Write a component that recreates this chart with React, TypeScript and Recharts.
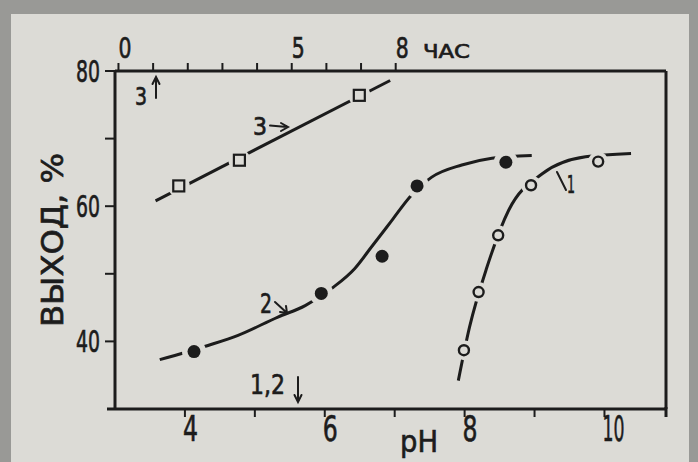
import {
  ComposedChart,
  Line,
  Scatter,
  XAxis,
  YAxis,
} from 'recharts'

// --- Data ---

// curve 3: yield vs time, hours (top axis)
const curve3Hours = [1.74, 3.49, 6.95]
const curve3Yield = [63.0, 66.8, 76.4]
const curve3LineHours = [1.07, 7.84]
const curve3LineYield = [60.8, 78.6]

// curve 2: yield vs pH, filled circles
const curve2Ph = [4.13, 5.95, 6.82, 7.32, 8.59]
const curve2Yield = [38.5, 47.1, 52.6, 63.0, 66.5]
const curve2LinePh = [3.64, 4.33, 4.76, 5.33, 5.72, 6.12, 6.43, 6.67, 6.96, 7.22, 7.53, 7.96, 8.39, 8.96]
const curve2LineYield = [37.3, 39.4, 40.9, 43.6, 45.3, 48.0, 50.8, 54.0, 57.9, 61.4, 64.3, 66.1, 67.1, 67.5]

// curve 1: yield vs pH, open circles
const curve1Ph = [7.99, 8.2, 8.48, 8.95, 9.91]
const curve1Yield = [38.7, 47.3, 55.7, 63.1, 66.6]
const curve1LinePh = [7.91, 8.07, 8.32, 8.63, 9.11, 9.73, 10.38]
const curve1LineYield = [34.2, 42.1, 51.0, 59.4, 64.8, 67.3, 67.8]

const phTicks = [4, 5, 6, 7, 8, 9, 10]
const phLabels = [4, 6, 8, 10]
const hourTicks = [0, 1, 2, 3, 4, 5, 6, 7, 8]
const hourLabels = [0, 5, 8]
const yieldTicks = [40, 50, 60, 70, 80]
const yieldLabels = [40, 60, 80]

const zip = (xs: number[], ys: number[]) => xs.map((x, i) => ({ x, y: ys[i] }))

// --- Style ---

const paper = '#dcdbd6'
const ink = '#1c1c1c'
const font = "'DejaVu Sans', sans-serif"

// condensed lettering: squeeze glyphs to a given width
const T = ({ w, size, children, ...rest }: any) => (
  <text
    fill={ink}
    stroke={ink}
    strokeWidth={0.7}
    fontFamily={font}
    fontSize={size}
    textLength={w}
    lengthAdjust="spacingAndGlyphs"
    {...rest}
  >
    {children}
  </text>
)

const bottomTick = (props: any) => {
  const { x, payload } = props
  if (!phLabels.includes(payload.value)) return <g />
  const s = String(payload.value)
  return (
    <T x={x - 2} y={441} size={36} w={s.length > 1 ? 22 : 15}>
      {s}
    </T>
  )
}

const topTick = (props: any) => {
  const { x, payload } = props
  if (!hourLabels.includes(payload.value)) return <g />
  return (
    <T x={x} y={58} size={28} w={13}>
      {payload.value}
    </T>
  )
}

const leftTick = (props: any) => {
  const { x, y, payload } = props
  if (!yieldLabels.includes(payload.value)) return <g />
  return (
    <T x={x - 3} y={y + 11} size={30} w={24} textAnchor="end">
      {payload.value}
    </T>
  )
}

const SquareMark = ({ cx, cy }: any) => (
  <g>
    <circle cx={cx} cy={cy} r={11} fill={paper} />
    <rect x={cx - 5.5} y={cy - 5.5} width={11} height={11} fill={paper} stroke={ink} strokeWidth={2.2} />
  </g>
)

const FilledMark = ({ cx, cy }: any) => (
  <g>
    <circle cx={cx} cy={cy} r={12} fill={paper} />
    <circle cx={cx} cy={cy} r={6.5} fill={ink} />
  </g>
)

const OpenMark = ({ cx, cy }: any) => (
  <g>
    <circle cx={cx} cy={cy} r={10} fill={paper} />
    <circle cx={cx} cy={cy} r={5} fill={paper} stroke={ink} strokeWidth={2.4} />
  </g>
)

export default function App() {
  const axisLine = { stroke: ink, strokeWidth: 3 }
  const tickLine = { stroke: ink, strokeWidth: 2 }
  return (
    <div style={{ position: 'fixed', left: 0, top: 0, width: 698, height: 462, background: '#999996', overflow: 'hidden' }}>
      <div style={{ position: 'absolute', left: 11, top: 14, right: 9, bottom: 0, background: paper }} />
      <div style={{ position: 'absolute', left: 0, top: 0 }}>
        <ComposedChart width={698} height={462} margin={{ top: 0, right: 0, bottom: 0, left: 0 }}>
          <XAxis
            xAxisId="ph"
            dataKey="x"
            type="number"
            orientation="bottom"
            domain={[3, 10.88]}
            ticks={phTicks}
            height={53}
            axisLine={axisLine}
            tickLine={tickLine}
            tickSize={8}
            tick={bottomTick}
            allowDataOverflow
          />
          <XAxis
            xAxisId="h"
            dataKey="x"
            type="number"
            orientation="top"
            domain={[-0.1, 15.8]}
            ticks={hourTicks}
            height={71}
            axisLine={axisLine}
            tickLine={tickLine}
            tickSize={8}
            tick={topTick}
            allowDataOverflow
          />
          <YAxis
            yAxisId="y"
            type="number"
            domain={[30, 80]}
            ticks={yieldTicks}
            width={115}
            axisLine={axisLine}
            tickLine={tickLine}
            tickSize={10}
            tick={leftTick}
            allowDataOverflow
          />
          <YAxis
            yAxisId="r"
            orientation="right"
            type="number"
            domain={[30, 80]}
            width={32}
            axisLine={axisLine}
            tick={false}
            tickLine={false}
          />

          <Line
            data={zip(curve3LineHours, curve3LineYield)}
            xAxisId="h"
            yAxisId="y"
            dataKey="y"
            type="linear"
            stroke={ink}
            strokeWidth={3}
            dot={false}
            activeDot={false}
            isAnimationActive={false}
          />
          <Line
            data={zip(curve2LinePh, curve2LineYield)}
            xAxisId="ph"
            yAxisId="y"
            dataKey="y"
            type="monotone"
            stroke={ink}
            strokeWidth={3}
            dot={false}
            activeDot={false}
            isAnimationActive={false}
          />
          <Line
            data={zip(curve1LinePh, curve1LineYield)}
            xAxisId="ph"
            yAxisId="y"
            dataKey="y"
            type="monotone"
            stroke={ink}
            strokeWidth={3}
            dot={false}
            activeDot={false}
            isAnimationActive={false}
          />
          <Scatter data={zip(curve3Hours, curve3Yield)} xAxisId="h" yAxisId="y" dataKey="y" shape={SquareMark} isAnimationActive={false} />
          <Scatter data={zip(curve2Ph, curve2Yield)} xAxisId="ph" yAxisId="y" dataKey="y" shape={FilledMark} isAnimationActive={false} />
          <Scatter data={zip(curve1Ph, curve1Yield)} xAxisId="ph" yAxisId="y" dataKey="y" shape={OpenMark} isAnimationActive={false} />
        </ComposedChart>
      </div>

      {/* hand-lettered annotations and frame overhangs */}
      <svg width={698} height={462} style={{ position: 'absolute', left: 0, top: 0, pointerEvents: 'none' }}>
        <T x={53} y={240} dy={10} size={30} w={174} textAnchor="middle" transform="rotate(-90 53 240)">
          ВЫХОД, %
        </T>
        <T x={423} y={58} size={19} w={47}>ЧАС</T>
        <T x={400} y={452} size={31} w={38}>pH</T>
        <T x={135} y={105} size={25} w={12}>3</T>
        <T x={253} y={135} size={24} w={14}>3</T>
        <T x={260} y={313} size={27} w={12}>2</T>
        <T x={250} y={394} size={27} w={35}>1,2</T>
        <T x={567} y={193} size={24} w={8}>1</T>
        <g stroke={ink} strokeWidth={2} fill="none" strokeLinecap="round">
          <path d="M156 98 L156 78 M152.5 84 L156 77 L159.5 84" />
          <path d="M270 125.5 L287 127 M281 123 L288 127 L281 131" />
          <path d="M275 302 L287 313 M280 312 L287 313 L286 306" />
          <path d="M298 377 L298 402 M294.5 395 L298 402 L301.5 395" />
          <path d="M557 172 L566 190" />
        </g>
        <g stroke={ink} strokeWidth={3} fill="none">
          <path d="M666 407 L666 417" />
          <path d="M107 409 L115 409" />
        </g>
      </svg>
    </div>
  )
}
